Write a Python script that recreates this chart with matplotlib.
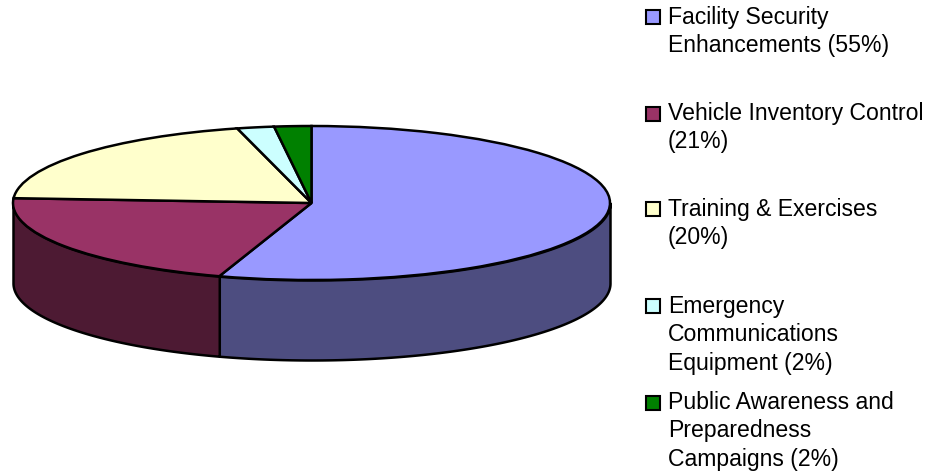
import numpy as np
import matplotlib
matplotlib.use("Agg")
import matplotlib.pyplot as plt
from matplotlib.patches import Rectangle

plt.rcParams['font.family'] = ['Liberation Sans', 'DejaVu Sans']

W, H = 927, 473

values = [55, 21, 20, 2, 2]
top_colors = ['#9999FF', '#993366', '#FFFFCC', '#CCFFFF', '#008000']
side_colors = ['#4D4D80', '#4D1A33', '#808066', '#668080', '#004000']
labels = [
    ['Facility Security', 'Enhancements (55%)'],
    ['Vehicle Inventory Control', '(21%)'],
    ['Training & Exercises', '(20%)'],
    ['Emergency', 'Communications', 'Equipment (2%)'],
    ['Public Awareness and', 'Preparedness', 'Campaigns (2%)'],
]
# legend layout, in pixels from the top left
box_tops = [10, 107, 202, 299, 396]
first_baselines = [24, 120, 216, 313, 409]
line_step = 28.3

# pie geometry in pixels
cx, cy = 311.5, 203
rx, ry = 298.5, 77
depth = 80

fig = plt.figure(figsize=(W / 100, H / 100), dpi=100)
ax = fig.add_axes([0, 0, 1, 1])

# side walls, only the front half (below y=0) can be seen
edges = 90 - np.cumsum([0] + values) * 3.6
for i in range(len(values)):
    a0 = min(edges[i], 0)
    a1 = max(edges[i + 1], -180)
    if a0 <= a1:
        continue
    t = np.radians(np.linspace(a0, a1, 200))
    ax.fill_between(np.cos(t), np.sin(t), np.sin(t) - depth / ry,
                    facecolor=side_colors[i], edgecolor='black', linewidth=1.8, zorder=1)

ax.pie(values, colors=top_colors, startangle=90, counterclock=False, radius=1,
       wedgeprops={'edgecolor': 'black', 'linewidth': 1.8, 'zorder': 2})
ax.set_aspect('auto')
ax.set_xlim(-cx / rx, (W - cx) / rx)
ax.set_ylim(-(H - cy) / ry, cy / ry)
ax.axis('off')

for top, base, lines, col in zip(box_tops, first_baselines, labels, top_colors):
    fig.add_artist(Rectangle((646 / W, 1 - (top + 14) / H), 14 / W, 14 / H,
                             transform=fig.transFigure, facecolor=col,
                             edgecolor='black', linewidth=1.5))
    for j, line in enumerate(lines):
        fig.text(668 / W, 1 - (base + j * line_step) / H, line, fontsize=16.6,
                 color='black', ha='left', va='baseline')

fig.savefig('out.png', dpi=100)
